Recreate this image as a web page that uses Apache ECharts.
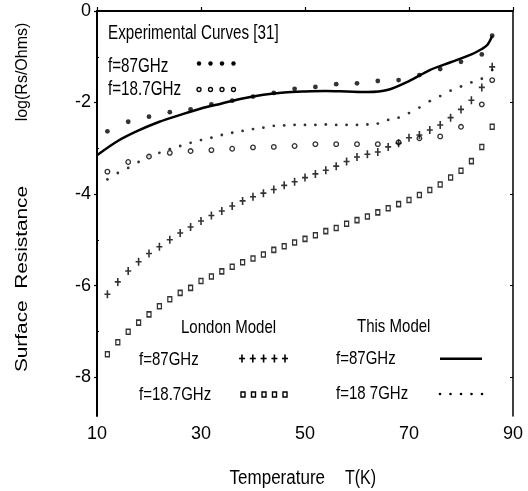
<!DOCTYPE html>
<html>
<head>
<meta charset="utf-8">
<script src="https://cdn.jsdelivr.net/npm/echarts@6/dist/echarts.min.js"></script>
<style>
  html, body { margin: 0; background: #fff; }
  #chart { width: 528px; height: 491px; }
</style>
</head>
<body>
<div id="chart"></div>
<script>
// ---- data ----
// temperatures (K)
var tExp = [12, 16, 20, 24, 28, 32, 36, 40, 44, 48, 52, 56, 60, 64, 68, 72, 76, 80, 84, 86];
var tCalc = [12, 14, 16, 18, 20, 22, 24, 26, 28, 30, 32, 34, 36, 38, 40, 42, 44, 46, 48, 50,
             52, 54, 56, 58, 60, 62, 64, 66, 68, 70, 72, 74, 76, 78, 80, 82, 84, 86];
var tLine = [10, 14, 18, 22, 26, 30, 34, 38, 42, 46, 50, 54, 58, 62, 66, 70, 74, 78, 82, 84, 85, 86];

// experimental curves [31]
var exp87 = [-2.63, -2.42, -2.31, -2.21, -2.15, -2.04, -1.96, -1.87, -1.79, -1.70,
             -1.66, -1.60, -1.58, -1.53, -1.51, -1.40, -1.27, -1.11, -0.95, -0.54];
var exp187 = [-3.51, -3.30, -3.18, -3.10, -3.06, -3.04, -3.01, -2.98, -2.97, -2.95,
              -2.91, -2.91, -2.91, -2.91, -2.87, -2.78, -2.74, -2.53, -2.04, -1.51];

// London model
var london87 = [-6.19, -5.92, -5.68, -5.48, -5.30, -5.15, -5.00, -4.85, -4.72, -4.59,
                -4.47, -4.37, -4.26, -4.15, -4.06, -3.98, -3.90, -3.81, -3.73, -3.64,
                -3.56, -3.48, -3.39, -3.29, -3.19, -3.13, -3.08, -2.97, -2.89, -2.77,
                -2.71, -2.60, -2.49, -2.33, -2.15, -1.95, -1.67, -1.22];
var london187 = [-7.50, -7.24, -7.01, -6.81, -6.63, -6.45, -6.30, -6.16, -6.05, -5.90,
                 -5.80, -5.69, -5.59, -5.49, -5.41, -5.32, -5.22, -5.14, -5.06, -4.98,
                 -4.90, -4.81, -4.74, -4.65, -4.57, -4.49, -4.40, -4.31, -4.22, -4.13,
                 -4.02, -3.91, -3.79, -3.64, -3.49, -3.28, -2.97, -2.53];

// this model
var model87 = [-3.15, -2.84, -2.61, -2.42, -2.27, -2.13, -2.02, -1.91, -1.83, -1.78, -1.76,
               -1.75, -1.76, -1.77, -1.72, -1.53, -1.29, -1.12, -0.95, -0.83, -0.75, -0.55];
var model187 = [-3.68, -3.54, -3.43, -3.30, -3.18, -3.10, -3.02, -2.95, -2.88, -2.82,
                -2.77, -2.71, -2.66, -2.62, -2.58, -2.55, -2.51, -2.50, -2.49, -2.49,
                -2.49, -2.48, -2.49, -2.49, -2.49, -2.48, -2.46, -2.38, -2.33, -2.23,
                -2.11, -1.97, -1.86, -1.74, -1.65, -1.56, -1.48, -1.29];

// axis ticks
var xTicks = [10, 30, 50, 70, 90];
var yTicks = [-8, -6, -4, -2, 0];
var yMinor = [-7, -5, -3, -1];

function pairs(xs, ys) {
  return xs.map(function (x, i) { return [x, ys[i]]; });
}

var plusSymbol = 'path://M2.2,0L3.8,0L3.8,8L2.2,8Z M0,3.2L6,3.2L6,4.8L0,4.8Z';
var narrow = 'Liberation Sans';

// legend text helper (condensed look via scaleX)
function label(txt, x, y, size, sx) {
  return {
    type: 'text', x: x, y: y, scaleX: sx, silent: true,
    style: { text: txt, fontSize: size, fontFamily: narrow, fill: '#000',
             textAlign: 'left', verticalAlign: 'middle' }
  };
}
function dots(xs, y, r, hollow) {
  return xs.map(function (x) {
    return { type: 'circle', shape: { cx: x, cy: y, r: r }, silent: true,
             style: hollow ? { fill: '#fff', stroke: '#000', lineWidth: 1.3 } : { fill: '#000' } };
  });
}
function pluses(xs, y) {
  var out = [];
  xs.forEach(function (x) {
    out.push({ type: 'rect', shape: { x: x - 0.8, y: y - 4, width: 1.6, height: 8 }, style: { fill: '#000' }, silent: true });
    out.push({ type: 'rect', shape: { x: x - 3, y: y - 0.8, width: 6, height: 1.6 }, style: { fill: '#000' }, silent: true });
  });
  return out;
}
function squares(xs, y) {
  return xs.map(function (x) {
    return { type: 'rect', shape: { x: x - 2, y: y - 2.5, width: 4, height: 5 }, silent: true,
             style: { fill: '#fff', stroke: '#000', lineWidth: 1.4 } };
  });
}

var graphics = [
  label('Experimental Curves [31]', 108, 33, 20, 0.76),
  label('f=87GHz', 108, 66, 20, 0.76),
  label('f=18.7GHz', 108, 89, 20, 0.76),
  label('London Model', 181, 328, 19, 0.79),
  label('f=87GHz', 139, 360, 19, 0.79),
  label('f=18.7GHz', 139, 395, 19, 0.79),
  label('This Model', 357, 327, 19, 0.79),
  label('f=87GHz', 336, 359, 19, 0.79),
  label('f=18 7GHz', 336, 394, 19, 0.79),
  { type: 'line', shape: { x1: 440, y1: 358.7, x2: 482, y2: 358.7 }, style: { stroke: '#000', lineWidth: 2.5 }, silent: true },
  // axis titles
  {
    type: 'text', x: 325, y: 478, scaleX: 0.85, silent: true,
    style: { text: 'Temperature', fontSize: 20, fontFamily: narrow, fill: '#000', textAlign: 'right', verticalAlign: 'middle' }
  },
  {
    type: 'text', x: 345, y: 478, scaleX: 0.8, silent: true,
    style: { text: 'T(K)', fontSize: 20, fontFamily: narrow, fill: '#000', textAlign: 'left', verticalAlign: 'middle' }
  },
  {
    type: 'text', x: 23, y: 72, rotation: Math.PI / 2, silent: true,
    style: { text: 'log(Rs/Ohms)', fontSize: 16, fontFamily: 'Liberation Sans', fill: '#000', textAlign: 'center', verticalAlign: 'middle' }
  },
  {
    type: 'text', x: 23, y: 279, rotation: Math.PI / 2, scaleX: 1.3, silent: true,
    style: { text: 'Surface  Resistance', fontSize: 16, fontFamily: 'Liberation Sans', fill: '#000', textAlign: 'center', verticalAlign: 'middle' }
  }
]
  .concat(dots([199, 210.5, 222, 233.5], 63.5, 2.2, false))
  .concat(dots([199, 210.5, 222, 233.5], 89.5, 2, true))
  .concat(pluses([242, 252.8, 263.6, 274.4, 285], 358.5))
  .concat(squares([243, 253.5, 264, 274.5, 285], 394.5))
  .concat(dots([440, 450.5, 461, 471.5, 482], 394, 1.3, false));

var chart = echarts.init(document.getElementById('chart'), null, { renderer: 'canvas' });

var tickFont = { color: '#000', fontSize: 18, fontFamily: 'Liberation Sans' };

chart.setOption({
  animation: false,
  backgroundColor: '#fff',
  grid: { left: 97, right: 15, top: 11, bottom: 75 },
  xAxis: [
    {
      type: 'value', min: 10, max: 90, position: 'bottom',
      axisLine: { lineStyle: { color: '#000', width: 2 } },
      axisTick: { inside: true, length: 4, customValues: xTicks, lineStyle: { color: '#000', width: 1.2 } },
      axisLabel: Object.assign({ margin: 9, customValues: xTicks }, tickFont),
      splitLine: { show: false }
    },
    {
      type: 'value', min: 10, max: 90, position: 'top',
      axisLine: { lineStyle: { color: '#000', width: 1 } },
      axisTick: { show: false }, axisLabel: { show: false }, splitLine: { show: false }
    }
  ],
  yAxis: [
    {
      type: 'value', min: -8.85, max: 0, position: 'left',
      axisLine: { lineStyle: { color: '#000', width: 2 } },
      axisTick: { inside: false, length: 3, customValues: yTicks, lineStyle: { color: '#000', width: 1.2 } },
      axisLabel: Object.assign({ margin: 6, customValues: yTicks }, tickFont),
      splitLine: { show: false }
    },
    {
      type: 'value', min: -8.85, max: 0, position: 'right',
      axisLine: { lineStyle: { color: '#000', width: 1.5 } },
      axisTick: { inside: true, length: 3, customValues: yTicks, lineStyle: { color: '#000' } },
      axisLabel: { show: false }, splitLine: { show: false }
    },
    {
      type: 'value', min: -8.85, max: 0, position: 'left',
      axisLine: { show: false },
      axisTick: { inside: true, length: 2, customValues: yMinor, lineStyle: { color: '#000' } },
      axisLabel: { show: false }, splitLine: { show: false }
    }
  ],
  graphic: graphics,
  series: [
    {
      name: 'This Model 87GHz', type: 'line', data: pairs(tLine, model87),
      smooth: 0.3, showSymbol: false, lineStyle: { color: '#000', width: 2.5 }, z: 2
    },
    {
      name: 'This Model 18.7GHz', type: 'scatter', data: pairs(tCalc, model187),
      symbol: 'circle', symbolSize: 2.8, itemStyle: { color: '#000' }, z: 3
    },
    {
      name: 'Exp 87GHz', type: 'scatter', data: pairs(tExp, exp87),
      symbol: 'circle', symbolSize: 4.8, itemStyle: { color: '#000' }, z: 4
    },
    {
      name: 'Exp 18.7GHz', type: 'scatter', data: pairs(tExp, exp187),
      symbol: 'circle', symbolSize: 4.6, itemStyle: { color: '#fff', borderColor: '#000', borderWidth: 1.3 }, z: 4
    },
    {
      name: 'London 87GHz', type: 'scatter', data: pairs(tCalc, london87),
      symbol: plusSymbol, symbolSize: [6, 8], itemStyle: { color: '#000' }, z: 4
    },
    {
      name: 'London 18.7GHz', type: 'scatter', data: pairs(tCalc, london187),
      symbol: 'rect', symbolSize: [4, 5], itemStyle: { color: '#fff', borderColor: '#000', borderWidth: 1.4 }, z: 4
    }
  ]
});
</script>
</body>
</html>
